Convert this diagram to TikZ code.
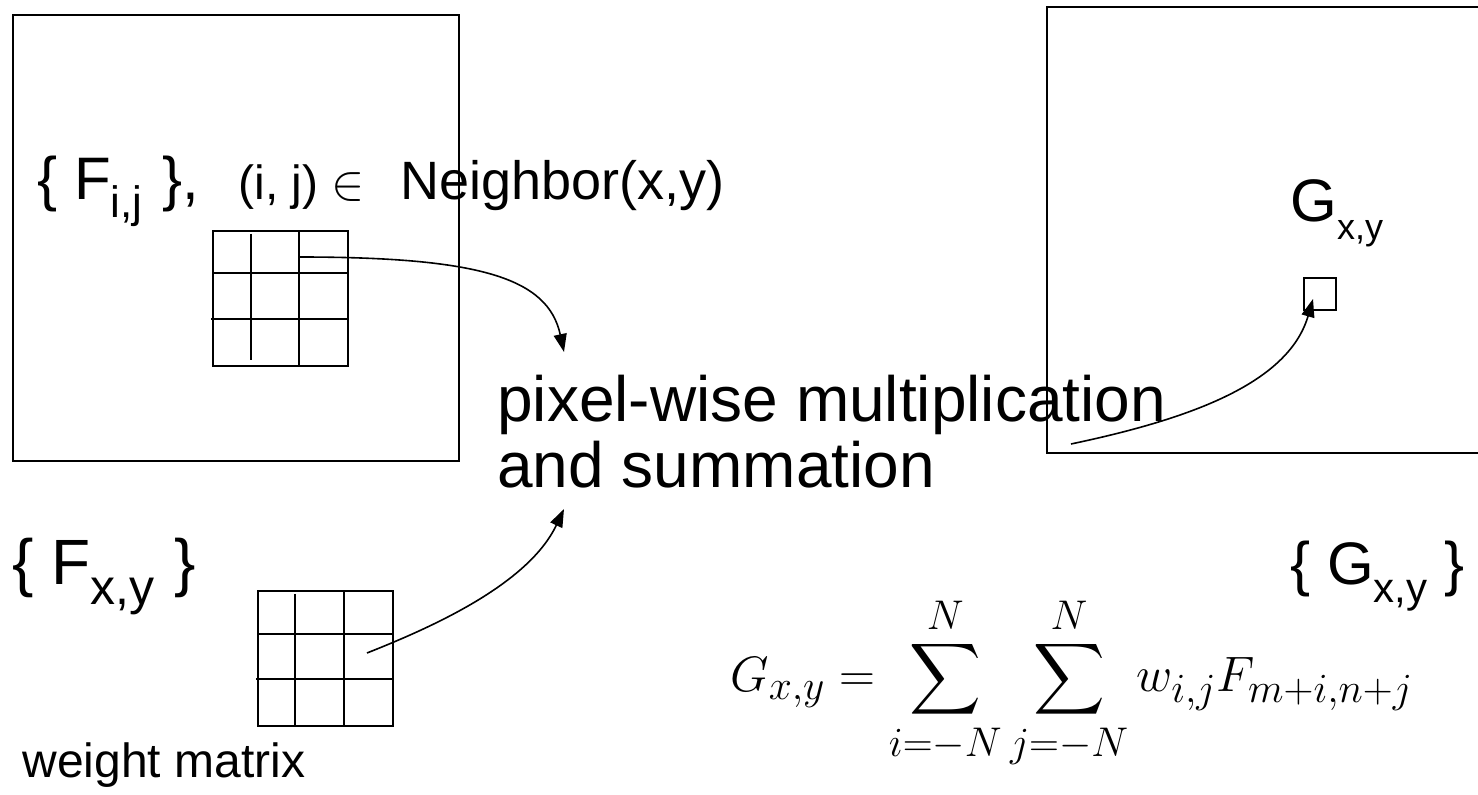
\documentclass[tikz,border=0pt]{standalone}
\usepackage{amsmath}
\usepackage{fontspec}
\setmainfont{Liberation Sans}
\usetikzlibrary{arrows.meta}
\newcommand{\lowsub}[2][21]{\raisebox{-0.3em}{\fontsize{#1}{#1}\selectfont #2}}

\begin{document}
\begin{tikzpicture}[x=0.5pt,y=-0.5pt,
    txt/.style={anchor=base west,inner sep=0pt,font=\fontsize{30}{36}\selectfont},
    gridline/.style={line width=1pt},
    link/.style={line width=0.8pt,-{Triangle[length=9pt,width=6.5pt]}}]
  \clip (0,0) rectangle (1478,795);
  % image planes
  \draw[line width=1pt] (13,15) rectangle (459,461);
  \draw[line width=1pt] (1047,7) rectangle (1520,453);
  % neighbourhood window
  \draw[gridline] (213,231) rectangle (348,366);
  \draw[gridline] (213,273) -- (348,273);
  \draw[gridline] (211,319) -- (348,319);
  \draw[gridline] (251,234) -- (251,360);
  \draw[gridline] (299,231) -- (299,366);
  % weight matrix
  \draw[gridline] (258,591) rectangle (393,726);
  \draw[gridline] (258,634) -- (393,634);
  \draw[gridline] (256,679) -- (393,679);
  \draw[gridline] (295,594) -- (295,726);
  \draw[gridline] (344,591) -- (344,726);
  % output pixel
  \node[draw,line width=1pt,minimum size=16pt,inner sep=0pt] (gxy) at (1320,294.5) {};

  % texts
  \node[txt] (fij) at (37,200) {\{ F\lowsub[22]{i,j}\hspace{10pt}\},};
  \node[txt,font=\fontsize{24}{28}\selectfont] (ijin) at (238,200) {(i, j) $\in$};
  \node[txt,font=\fontsize{27}{32}\selectfont] (nbr) at (400,200) {Neighbor(x,y)};
  \node[txt] (gpt) at (1290,222) {G\lowsub[18]{x,y}};
  \node[txt,font=\fontsize{32}{38}\selectfont] (pwm) at (497,422) {pixel-wise multiplication};
  \node[txt,font=\fontsize{32}{38}\selectfont] (ands) at (497,488) {and summation};
  \node[txt,font=\fontsize{32}{38}\selectfont] (fset) at (12,585) {\{ F\lowsub[25]{x,y}\hspace{10pt}\}};
  \node[txt] (gset) at (1290,585) {\{ G\lowsub{x,y} \}};
  \node[txt,font=\fontsize{24}{29}\selectfont] (wlab) at (22,778) {weight matrix};
  \node[anchor=base west,inner sep=0pt,font=\fontsize{28}{34}\selectfont] (eqn) at (730,692)
    {$\displaystyle G_{x,y} = \sum_{i=-N}^{N}\sum_{j=-N}^{N} w_{i,j}F_{m+i,n+j}$};

  % connectors
  \coordinate (win) at (298,257);
  \coordinate (mult) at (564,352);
  \coordinate (wmat) at (367,653);
  \coordinate (sum) at (564,509);
  \coordinate (out) at (1071,444);
  \coordinate (hit) at (1313,299);
  \draw[link] (win) .. controls (480,257) and (548,278) .. (mult);
  \draw[link] (wmat) .. controls (430,628) and (528,585) .. (sum);
  \draw[link] (out) .. controls (1185,420) and (1288,385) .. (hit);
\end{tikzpicture}
\end{document}
